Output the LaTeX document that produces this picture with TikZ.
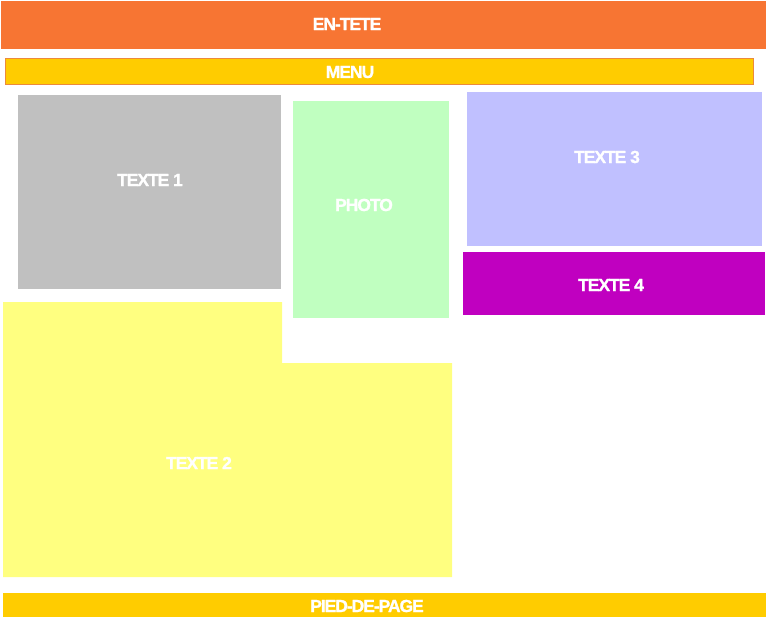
\documentclass[tikz,border=0pt]{standalone}
\usepackage{fontspec}
\setmainfont{Liberation Sans}
\newfontfamily\lblfont[LetterSpace=-6,FakeBold=1.2]{Liberation Sans}
\definecolor{headorange}{HTML}{F77533}
\definecolor{menuyellow}{HTML}{FFCC00}
\definecolor{menuborder}{HTML}{EC8A3A}
\definecolor{boxgray}{HTML}{C0C0C0}
\definecolor{boxgreen}{HTML}{C0FFC0}
\definecolor{boxlav}{HTML}{C0C0FF}
\definecolor{boxpurple}{HTML}{C000C0}
\definecolor{boxyellow}{HTML}{FFFF80}
\tikzset{
  lbl/.style={text=white, font=\lblfont\bfseries\fontsize{17.5}{19}\selectfont, inner sep=0pt, anchor=center},
}
\begin{document}
\begin{tikzpicture}[x=1pt,y=-1pt]
\useasboundingbox (0,0) rectangle (767,617);
\fill[white] (0,0) rectangle (767,617);
% header
\fill[headorange] (1,1) rectangle (766,49);
\node[lbl] (entete) at (347,24) {EN-TETE};
% menu
\filldraw[fill=menuyellow, draw=menuborder, line width=0.8pt] (5,58) rectangle (753,84);
\node[lbl] (menu) at (350,72) {MENU};
% texte 1
\fill[boxgray] (18,95) rectangle (281,289);
\node[lbl] (t1) at (150,180) {TEXTE 1};
% photo
\fill[boxgreen] (293,101) rectangle (449,318);
\node[lbl] (photo) at (364,205) {PHOTO};
% texte 3
\fill[boxlav] (467,92) rectangle (762,246);
\node[lbl] (t3) at (607,157) {TEXTE 3};
% texte 4
\fill[boxpurple] (463,252) rectangle (765,315);
\node[lbl] (t4) at (611,285) {TEXTE 4};
% texte 2
\fill[boxyellow] (3,302) -- (282,302) -- (282,363) -- (452,363) -- (452,577) -- (3,577) -- cycle;
\node[lbl] (t2) at (199,463) {TEXTE 2};
% footer
\fill[menuyellow] (3,593) rectangle (766,617);
\node[lbl] (pied) at (367,606) {PIED-DE-PAGE};
\end{tikzpicture}
\end{document}
